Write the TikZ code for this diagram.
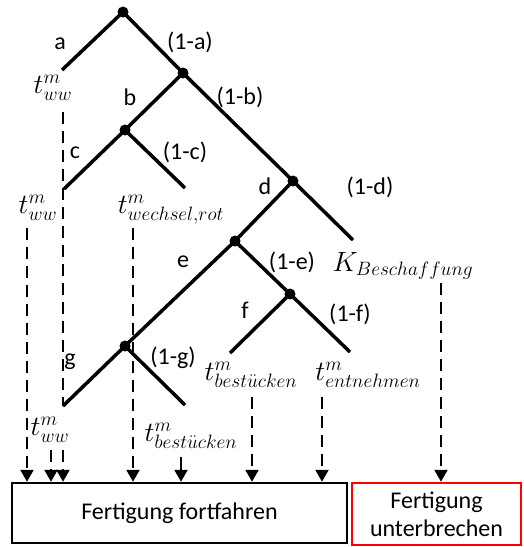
\documentclass[tikz,border=0pt]{standalone}
\usepackage{graphicx}
\usepackage{fontspec}
\setmainfont{Carlito}
\usetikzlibrary{arrows.meta}
\newcommand{\mlab}[1]{\scalebox{1.12}{$#1$}}
\begin{document}
\begin{tikzpicture}[x=1pt,y=-1pt,
  branch/.style={line width=3.5pt},
  dot/.style={circle,fill=black,inner sep=0pt,minimum size=11pt},
  lbl/.style={font=\fontsize{24}{28}\selectfont, inner sep=0pt},
  mlbl/.style={font=\fontsize{24}{28}\selectfont, inner sep=0pt},
  dashline/.style={line width=2.2pt, dash pattern=on 12pt off 7pt},
  dasharrow/.style={dashline, -{Triangle[width=13pt,length=12pt]}},
  solidarrow/.style={line width=2.2pt, -{Triangle[width=13pt,length=12pt]}},
  box/.style={draw, line width=2.5pt, font=\fontsize{24}{28}\selectfont, align=center, inner sep=0pt}
]
\useasboundingbox (0,0) rectangle (523,547);

% tree nodes
\node[dot] (n1) at (123,12) {};
\node[dot] (n2) at (183,73) {};
\node[dot] (n3) at (125,130) {};
\node[dot] (n4) at (293,181) {};
\node[dot] (n5) at (235,241) {};
\node[dot] (n6) at (290,294) {};
\node[dot] (n7) at (125,346) {};

% leaves
\coordinate (l1) at (62,70);
\coordinate (l3a) at (64,189);
\coordinate (l3b) at (185,188);
\coordinate (l4) at (353,240);
\coordinate (l6a) at (230,353);
\coordinate (l6b) at (350,352);
\coordinate (l7a) at (63,406);
\coordinate (l7b) at (185,405);

% branches
\draw[branch] (n1.center) -- (l1);
\draw[branch] (n1.center) -- (n2.center);
\draw[branch] (n2.center) -- (n3.center);
\draw[branch] (n2.center) -- (n4.center);
\draw[branch] (n3.center) -- (l3a);
\draw[branch] (n3.center) -- (l3b);
\draw[branch] (n4.center) -- (n5.center);
\draw[branch] (n4.center) -- (l4);
\draw[branch] (n5.center) -- (n7.center);
\draw[branch] (n5.center) -- (n6.center);
\draw[branch] (n6.center) -- (l6a);
\draw[branch] (n6.center) -- (l6b);
\draw[branch] (n7.center) -- (l7a);
\draw[branch] (n7.center) -- (l7b);

% branch labels
\node[lbl] (la) at (60,44) {a};
\node[lbl] (la1) at (190,42) {(1-a)};
\node[lbl] (lb) at (130,97) {b};
\node[lbl] (lb1) at (240,97) {(1-b)};
\node[lbl] (lc) at (75,153) {c};
\node[lbl] (lc1) at (185,152) {(1-c)};
\node[lbl] (ld) at (265,186) {d};
\node[lbl] (ld1) at (370,187) {(1-d)};
\node[lbl] (le) at (183,262) {e};
\node[lbl] (le1) at (292,262) {(1-e)};
\node[lbl] (lf) at (245,310) {f};
\node[lbl] (lf1) at (350,314) {(1-f)};
\node[lbl] (lg) at (70,362) {g};
\node[lbl] (lg1) at (173,358) {(1-g)};

% outcome labels
\node[mlbl] (t1) at (53,88) {\mlab{t_{ww}^{m}}};
\node[mlbl] (t2) at (38,208) {\mlab{t_{ww}^{m}}};
\node[mlbl] (t3) at (171,210) {\mlab{t_{wechsel,rot}^{m}}};
\node[mlbl] (k) at (403,266) {\mlab{K_{Beschaffung}}};
\node[mlbl] (t4) at (251,375) {\mlab{t_{best\ddot{u}cken}^{m}}};
\node[mlbl] (t5) at (368,375) {\mlab{t_{entnehmen}^{m}}};
\node[mlbl] (t6) at (50,430) {\mlab{t_{ww}^{m}}};
\node[mlbl] (t7) at (191,436) {\mlab{t_{best\ddot{u}cken}^{m}}};

% boxes
\node[box, minimum width=335pt, minimum height=60pt] (fort) at (179.5,513) {Fertigung fortfahren};
\node[box, draw=red, minimum width=169pt, minimum height=62pt] (unter) at (436.5,514) {Fertigung\\unterbrechen};

% arrow starts
\coordinate (s1) at (63,112);
\coordinate (s1b) at (63,450);
\coordinate (s2) at (27,228);
\coordinate (s3) at (51,450);
\coordinate (s4) at (133,228);
\coordinate (s5) at (181,457);
\coordinate (s6) at (252,397);
\coordinate (s7) at (322,397);
\coordinate (s8) at (441,283);

\draw[dashline] (s1) -- (l7a);
\draw[dasharrow] (s1b) -- (s1b |- fort.north);
\draw[dasharrow] (s2) -- (s2 |- fort.north);
\draw[dasharrow] (s3) -- (s3 |- fort.north);
\draw[dasharrow] (s4) -- (s4 |- fort.north);
\draw[solidarrow] (s5) -- (s5 |- fort.north);
\draw[dasharrow] (s6) -- (s6 |- fort.north);
\draw[dasharrow] (s7) -- (s7 |- fort.north);
\draw[dasharrow] (s8) -- (s8 |- unter.north);
\end{tikzpicture}
\end{document}
